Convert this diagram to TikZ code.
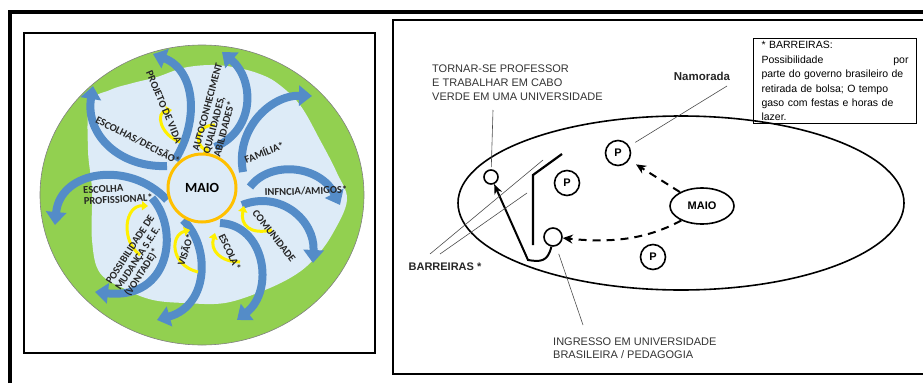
\documentclass[tikz,border=0pt]{standalone}
\usepackage{fontspec}
\setmainfont{Liberation Sans}
\newfontfamily\carlito{Carlito}
\usetikzlibrary{arrows.meta,shapes.geometric}

\definecolor{verdeanel}{RGB}{146,208,80}
\definecolor{azulclaro}{RGB}{221,235,247}
\definecolor{azulseta}{RGB}{84,140,200}
\definecolor{laranja}{RGB}{255,192,0}
\definecolor{amarelo}{RGB}{255,240,0}

\begin{document}
\begin{tikzpicture}[x=1pt,y=-1pt]
    \tikzset{
        seta/.style={draw=azulseta, line width=8pt, -{Triangle[width=20pt,length=13pt]}},
        setinha/.style={draw=amarelo, line width=3pt, -{Triangle[width=9pt,length=6pt]}},
        rotulo/.style={font=\fontsize{10.5}{11}\selectfont\carlito\bfseries, text=black!85, inner sep=0pt, align=left},
        texto/.style={font=\fontsize{11}{14}\selectfont, text=black!80, inner sep=0pt, align=left, anchor=north west},
        negrito/.style={font=\fontsize{11}{13}\selectfont\bfseries, text=black!85, inner sep=0pt},
        pessoa/.style={circle, draw, line width=1.6pt, minimum size=25pt, inner sep=0pt, font=\fontsize{11}{13}\selectfont\bfseries},
        marco/.style={circle, draw, line width=1.6pt, inner sep=0pt},
        guia/.style={line width=0.6pt, black!70},
        tracejada/.style={line width=2pt, dash pattern=on 8pt off 6pt, -{Stealth[length=10pt,width=9pt]}}
    }
    \useasboundingbox (0,0) rectangle (923,383);
    % molduras
    \draw[line width=4pt] (10,383) -- (10,12) -- (926,12);
    \draw[line width=2pt] (24,33) rectangle (375,353);
    \draw[line width=2.5pt] (393,20) rectangle (926,374);
    % painel da esquerda
    \draw[fill=verdeanel, draw=black!50, line width=0.6pt] (202,195) ellipse [x radius=162pt, y radius=150pt];
    \fill[azulclaro] plot[smooth cycle, tension=0.6] coordinates {(90,103) (110,90) (133,83) (157,77) (183,68) (210,65) (233,67) (257,73) (277,83) (300,105) (320,140) (337,173) (347,200) (333,233) (315,258) (295,275) (265,290) (225,303) (185,303) (153,300) (127,290) (100,273) (92,240) (92,190) (88,150)};
    \draw[seta] (167,166) .. controls (120,168) and (85,135) .. (93,86);
    \draw[seta] (175,160) .. controls (200,120) and (195,70) .. (153,54);
    \draw[seta] (215,147) .. controls (255,130) and (255,80) .. (222,52);
    \draw[seta] (243,172) .. controls (235,130) and (270,95) .. (312,96);
    \draw[seta] (250,187) .. controls (270,160) and (320,165) .. (340,205);
    \draw[seta] (242,205) .. controls (280,190) and (315,220) .. (313,263);
    \draw[seta] (220,223) .. controls (265,225) and (275,290) .. (237,320);
    \draw[seta] (183,220) .. controls (210,245) and (210,305) .. (157,320);
    \draw[seta] (152,198) .. controls (180,230) and (170,300) .. (95,292);
    \draw[seta] (167,200) .. controls (130,160) and (60,170) .. (55,225);
    \draw[setinha] (180,142) .. controls (160,135) and (155,112) .. (172,110);
    \draw[setinha] (215,125) .. controls (195,125) and (195,145) .. (210,152);
    \draw[setinha] (272,230) .. controls (250,235) and (240,225) .. (244,206);
    \draw[setinha] (240,262) .. controls (220,262) and (210,250) .. (215,233);
    \draw[setinha] (198,272) .. controls (170,265) and (170,235) .. (190,230);
    \draw[setinha] (140,255) .. controls (120,240) and (125,205) .. (148,206);
    \node[circle, draw=laranja, line width=3pt, fill=azulclaro, minimum size=68pt, font=\fontsize{14}{15}\selectfont\carlito\bfseries] (maiocentro) at (202,188) {MAIO};
    \node[rotulo, rotate=-27] (escolhas) at (138,140) {ESCOLHAS/DECISÃO*};
    \node[rotulo, rotate=-67] (projeto) at (164,107) {PROJETO DE VIDA};
    \node[rotulo, rotate=75] (autoconhecimento) at (218,110) {AUTOCONHECIMENT\\QUALIDADES,\\ABILIDADES*};
    \node[rotulo, rotate=22] (familia) at (264,152) {FAMÍLIA*};
    \node[rotulo, rotate=2] (infancia) at (306,191) {INFNCIA/AMIGOS*};
    \node[rotulo, rotate=-52] (comunidade) at (274,236) {COMUNIDADE};
    \node[rotulo, rotate=-65] (escola) at (230,252) {ESCOLA*};
    \node[rotulo, rotate=72] (visao) at (185,250) {VISÃO*};
    \node[rotulo, rotate=57] (possibilidade) at (140,256) {POSSIBILIDADE DE\\MUDANÇA S.E.E.\\(VONTADE)*};
    \node[rotulo, rotate=3] (profissional) at (118,194) {ESCOLHA\\PROFISSIONAL*};
    % painel da direita
    \draw[line width=1.6pt] (681,203) ellipse [x radius=223pt, y radius=87pt];
    \node[ellipse, draw, line width=1.6pt, minimum width=64pt, minimum height=36pt, inner sep=0pt, font=\fontsize{11}{13}\selectfont\bfseries] (maio) at (702,206) {MAIO};
    \node[pessoa] (p1) at (618,153) {P};
    \node[pessoa] (p2) at (567,183) {P};
    \node[pessoa] (p3) at (653,257) {P};
    \node[marco, minimum size=14pt] (alvo) at (491,177) {};
    \node[marco, minimum size=18pt] (ingresso) at (553,237) {};
    \coordinate (curva) at (528,260);
    \draw[tracejada, shorten >=8pt] (maio) -- (p1);
    \draw[tracejada] (maio.215) .. controls (645,240) and (610,243) .. (ingresso);
    \draw[line width=2pt, -{Stealth[length=10pt,width=8pt]}] (ingresso.260) .. controls (548,262) and (540,262) .. (curva) -- (alvo);
    \draw[line width=2.2pt] (533,245) -- (533,175) -- (562,154);
    \node[texto] (tornar) at (432,65) {TORNAR-SE PROFESSOR\\E TRABALHAR EM CABO\\VERDE EM UMA UNIVERSIDADE};
    \coordinate (tornarpe) at (493,110);
    \draw[guia, shorten >=2pt] (tornarpe) -- (alvo);
    \node[negrito, font=\fontsize{11.5}{13}\selectfont\bfseries] (namorada) at (702,76) {Namorada};
    \coordinate (namoradape) at (727,86);
    \draw[guia, shorten >=7pt] (namoradape) -- (p1);
    \node[negrito] (barreiras) at (445,267) {BARREIRAS *};
    \coordinate (barreira1) at (430,254);
    \coordinate (barreira2) at (440,254);
    \coordinate (topo1) at (543,160);
    \coordinate (topo2) at (527,193);
    \draw[guia] (barreira1) -- (topo1);
    \draw[guia] (barreira2) -- (topo2);
    \node[texto, font=\fontsize{11}{13}\selectfont] (ingressotexto) at (553,338) {INGRESSO EM UNIVERSIDADE\\BRASILEIRA / PEDAGOGIA};
    \coordinate (ingressope) at (583,325);
    \draw[guia, shorten >=8pt] (ingressope) -- (ingresso);
    \node[draw, line width=1pt, anchor=north west, text width=147pt, inner xsep=8pt, inner ysep=3pt, align=left, font=\fontsize{10.5}{14.4}\selectfont] (nota) at (753,38) {* BARREIRAS:\\Possibilidade\hfill por\\parte do governo brasileiro de\\retirada de bolsa; O tempo\\gaso com festas e horas de\\lazer.};
\end{tikzpicture}
\end{document}
